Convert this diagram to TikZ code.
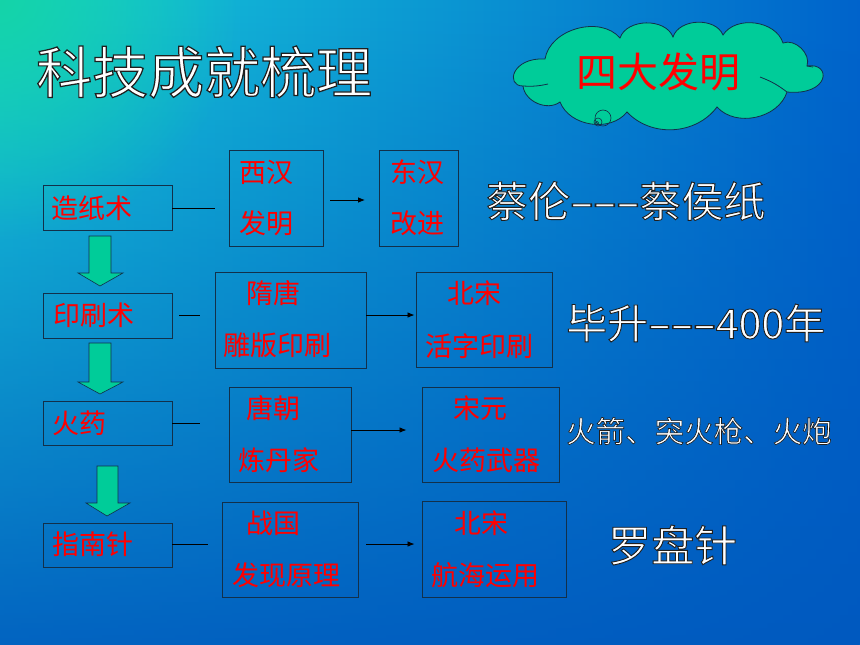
\documentclass[tikz,border=0pt]{standalone}
\usepackage{fontspec}
\setmainfont{Noto Sans CJK SC}
\newfontfamily\outfont[FakeBold=2.2]{Noto Sans CJK SC}
\usetikzlibrary{arrows.meta,fadings}
\definecolor{bgA}{HTML}{18CEDA}
\definecolor{bgB}{HTML}{10ACE6}
\definecolor{bgC}{HTML}{0064CC}
\definecolor{bgD}{HTML}{0058BE}
\definecolor{bgT}{HTML}{14D4A8}
\definecolor{gfill}{HTML}{00CC99}
\definecolor{bdr}{HTML}{12304A}
\tikzfading[name=myfadeout, inner color=transparent!0, outer color=transparent!100]
\newcommand\strk{\special{pdf:code 0.12 0.12 0.12 RG}}
\newcommand\wout[1]{\textcolor{white}{\strk#1}}
\newcommand\dsh{\makebox[0.55em]{\scalebox{1.75}[1]{-}}\strk}
\tikzset{
  box/.style={draw=bdr,line width=0.9pt,rectangle,inner sep=0pt},
  rtext/.style={text=red,font=\fontsize{27}{27}\selectfont,inner sep=0pt,anchor=west},
  wtext/.style={inner sep=0pt,anchor=west},
  link/.style={draw=black,line width=0.8pt},
  arr/.style={link,-{Latex[length=7pt,width=5.5pt]}},
  garrow/.style={fill=gfill,draw=bdr,line width=0.6pt,line join=miter},
  cloudline/.style={draw=bdr,line width=0.8pt}
}
\begin{document}
\begin{tikzpicture}[x=1pt,y=-1pt]
\useasboundingbox (0,0) rectangle (860,645);
% background
\shade[left color=bgA,middle color=bgB,right color=bgC] (0,0) rectangle (860,645);
\shade[top color=bgD,bottom color=bgD,path fading=north,fill opacity=0.9] (0,0) rectangle (860,645);
\fill[bgT,path fading=myfadeout] (0,0) circle (240);
% title
\node[wtext,font=\outfont\fontsize{56}{56}\selectfont] (title) at (36,72) {\wout{科技成就梳理}};
% cloud
\coordinate (k1) at (545,59);
\coordinate (k2) at (620,38);
\coordinate (k3) at (673,37);
\coordinate (k4) at (723,35);
\coordinate (k5) at (783,43);
\coordinate (k6) at (807,66);
\coordinate (k7) at (787,92);
\coordinate (k8) at (717,107);
\coordinate (k9) at (627,112);
\coordinate (k10) at (560,102);
\coordinate (k11) at (523,86);
\draw[cloudline,fill=gfill] (k11) .. controls (505,86) and (512,57) .. (k1)
  to[bend left=65] (k2) to[bend left=70] (k3) to[bend left=70] (k4)
  to[bend left=65] (k5) to[bend left=65] (k6) .. controls (832,62) and (830,96) .. (k7)
  to[bend left=60] (k8) to[bend left=50] (k9) to[bend left=60] (k10)
  to[bend left=60] (k11);
\draw[cloudline] (k11) to[bend right=8] (548,84);
\draw[cloudline] (760,77) to[bend left=8] (k7);
\draw[cloudline] (k6) to[bend right=5] (813,67);
\draw[bdr,line width=0.6pt] (603,118) circle (8);
\draw[bdr,line width=0.6pt] (598,122) circle (4);
\draw[bdr,line width=0.6pt] (597,123) circle (1.8);
\node[wtext,text=red,font=\fontsize{41}{41}\selectfont] (inv) at (576,72) {四大发明};
% left boxes
\node[box,minimum width=129pt,minimum height=45pt] (a1) at (107.5,207.5) {};
\node[box,minimum width=129pt,minimum height=45pt] (a2) at (107.5,315.5) {};
\node[box,minimum width=129pt,minimum height=44pt] (a3) at (107.5,423) {};
\node[box,minimum width=129pt,minimum height=44pt] (a4) at (107.5,545) {};
\node[rtext] (ta1) at (51,208) {造纸术};
\node[rtext] (ta2) at (53,315) {印刷术};
\node[rtext] (ta3) at (52,423) {火药};
\node[rtext] (ta4) at (52,544) {指南针};
% green arrows
\draw[garrow] (89,236) -- (111,236) -- (111,273) -- (123,273) -- (100,286) -- (78,273) -- (89,273) -- cycle;
\draw[garrow] (89,343) -- (111,343) -- (111,382) -- (123,382) -- (100,394) -- (78,382) -- (89,382) -- cycle;
\draw[garrow] (97,466) -- (118,466) -- (118,503) -- (130,503) -- (107,516) -- (86,503) -- (97,503) -- cycle;
% middle boxes
\node[box,minimum width=94pt,minimum height=96pt] (b1) at (276,198) {};
\node[box,minimum width=151pt,minimum height=96pt] (b2) at (290.5,320) {};
\node[box,minimum width=122pt,minimum height=95pt] (b3) at (290,434.5) {};
\node[box,minimum width=136pt,minimum height=95pt] (b4) at (290,549.5) {};
% right boxes
\node[box,minimum width=79pt,minimum height=96pt] (c1) at (419,198) {};
\node[box,minimum width=136pt,minimum height=95pt] (c2) at (484,319.5) {};
\node[box,minimum width=137pt,minimum height=95pt] (c3) at (490.5,434.5) {};
\node[box,minimum width=144pt,minimum height=96pt] (c4) at (494,549) {};
% box texts
\node[rtext] (tb1a) at (239,172) {西汉};
\node[rtext] (tb1b) at (239,223) {发明};
\node[rtext] (tc1a) at (390,172) {东汉};
\node[rtext] (tc1b) at (390,223) {改进};
\node[rtext] (tb2a) at (246,293) {隋唐};
\node[rtext] (tb2b) at (223,345) {雕版印刷};
\node[rtext] (tc2a) at (447,293) {北宋};
\node[rtext] (tc2b) at (425,346) {活字印刷};
\node[rtext] (tb3a) at (246,408) {唐朝};
\node[rtext] (tb3b) at (238,460) {炼丹家};
\node[rtext] (tc3a) at (453,408) {宋元};
\node[rtext] (tc3b) at (432,460) {火药武器};
\node[rtext] (tb4a) at (246,523) {战国};
\node[rtext] (tb4b) at (232,575) {发现原理};
\node[rtext] (tc4a) at (454,523) {北宋};
\node[rtext] (tc4b) at (431,575) {航海运用};
% connectors
\coordinate (e1) at (215,208);
\coordinate (e2) at (200,315);
\coordinate (e3) at (200,423);
\coordinate (e4) at (208,544);
\draw[link] (a1.east |- e1) -- (e1);
\draw[link,shorten <=7pt] (a2.east |- e2) -- (e2);
\draw[link] (a3.east |- e3) -- (e3);
\draw[link] (a4.east |- e4) -- (e4);
\draw[arr,shorten <=7pt,shorten >=14pt] ([yshift=-2pt]b1.east) -- ([yshift=-2pt]c1.west);
\draw[arr,shorten >=1pt] ([yshift=5pt]b2.east) -- ([yshift=5pt]b2.east -| c2.west);
\draw[arr,shorten >=15pt] ([yshift=4.5pt]b3.east) -- ([yshift=4.5pt]b3.east -| c3.west);
\draw[arr,shorten <=8pt,shorten >=7pt] ([yshift=5.5pt]b4.east) -- ([yshift=5.5pt]b4.east -| c4.west);
% white side texts
\node[wtext,font=\outfont\fontsize{42}{42}\selectfont] (n1) at (486,201) {\wout{蔡伦\dsh\dsh\dsh 蔡侯纸}};
\node[wtext,font=\outfont\fontsize{41}{41}\selectfont] (n2) at (566,323) {\wout{毕升\dsh\dsh\dsh 400年}};
\node[wtext,font=\outfont\fontsize{29.5}{30}\selectfont] (n3) at (566,431) {\wout{火箭、突火枪、火炮}};
\node[wtext,font=\outfont\fontsize{43}{43}\selectfont] (n4) at (608,545) {\wout{罗盘针}};
\end{tikzpicture}
\end{document}
